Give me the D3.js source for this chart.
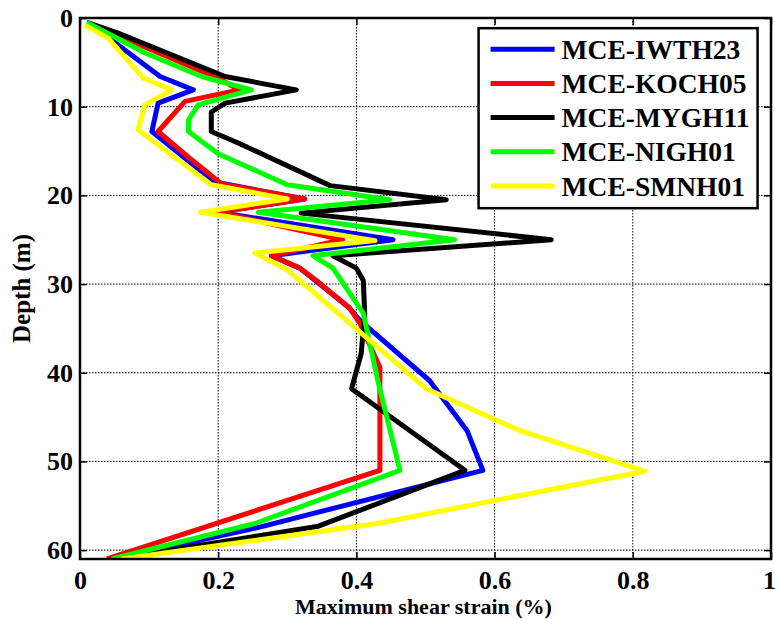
<!DOCTYPE html>
<html>
<head>
<meta charset="utf-8">
<script src="https://cdn.jsdelivr.net/npm/d3@7"></script>
<style>
  body { margin: 0; background: #fff; }
  svg text { font-family: "Liberation Serif", "Times New Roman", serif; font-weight: bold; fill: #000; }
  .grid line { stroke: #000; stroke-width: 1; stroke-dasharray: 1.5, 1.5; }
</style>
</head>
<body>
<svg id="chart"></svg>
<script>
// strain (%) vs depth (m) pairs
const iwth23 = [[0.01,0.5],[0.046,2.5],[0.116,6.6],[0.164,8.1],[0.113,9.6],[0.104,12.8],[0.195,18.5],[0.325,20.4],[0.2,21.9],[0.453,25],[0.277,26.8],[0.318,28.2],[0.39,32.7],[0.405,34.1],[0.506,40.9],[0.56,46.5],[0.583,51],[0.26,57.4],[0.05,61]];
const koch05 = [[0.01,0.5],[0.2,6.8],[0.23,8.1],[0.152,9.4],[0.113,12.8],[0.157,15.7],[0.205,18.7],[0.325,20.4],[0.2,21.9],[0.38,25],[0.277,26.8],[0.318,28.2],[0.342,29.6],[0.39,32.7],[0.405,34.4],[0.434,39.4],[0.434,51],[0.039,61]];
const mygh11 = [[0.01,0.5],[0.055,1.7],[0.21,6.6],[0.313,8.1],[0.21,9.6],[0.19,10.6],[0.19,12.8],[0.229,14.1],[0.362,18.9],[0.53,20.5],[0.32,22],[0.682,25],[0.366,26.8],[0.40,28.2],[0.41,29.6],[0.412,33.3],[0.407,37.8],[0.393,41.8],[0.557,51],[0.345,57.3],[0.05,61]];
const nigh01 = [[0.01,0.5],[0.096,4],[0.176,6.6],[0.248,8.1],[0.171,9.8],[0.157,11.5],[0.157,12.8],[0.2,15.3],[0.30,18.8],[0.369,19.6],[0.448,20.5],[0.258,21.9],[0.542,25],[0.337,26.8],[0.366,28.2],[0.41,33.3],[0.431,40.9],[0.463,51],[0.253,57],[0.046,61]];
const smnh01 = [[0.007,0.8],[0.041,2.3],[0.092,6.8],[0.133,8.1],[0.094,9.8],[0.084,12.6],[0.19,18.8],[0.30,20.4],[0.174,21.9],[0.427,25.1],[0.253,26.5],[0.30,28.4],[0.501,41.8],[0.636,46.5],[0.817,51.1],[0.43,57],[0.06,61]];

const seriesNames = ["MCE-IWTH23", "MCE-KOCH05", "MCE-MYGH11", "MCE-NIGH01", "MCE-SMNH01"];
const seriesColors = ["#0000ff", "#ff0000", "#000000", "#00ff00", "#ffff00"];
const seriesData = [iwth23, koch05, mygh11, nigh01, smnh01];

const xTicks = [0, 0.2, 0.4, 0.6, 0.8, 1];
const yTicks = [0, 10, 20, 30, 40, 50, 60];

const chartSize = {width: 775, height: 619};
const margin = {left: 80, right: 4, top: 18, bottom: 60};
const width = chartSize.width - margin.left - margin.right;
const height = chartSize.height - margin.top - margin.bottom;
const serif = '"Liberation Serif", "Times New Roman", serif';

const svg = d3.select("#chart")
  .attr("width", chartSize.width)
  .attr("height", chartSize.height);

const g = svg.append("g")
  .attr("transform", `translate(${margin.left},${margin.top})`);

const x = d3.scaleLinear().domain([0, 1]).range([0, width]);
const y = d3.scaleLinear().domain([0, 61]).range([0, height]);

// dotted grid
g.append("g").attr("class", "grid")
  .selectAll("line").data(xTicks.slice(1, -1)).join("line")
  .attr("x1", d => x(d)).attr("x2", d => x(d))
  .attr("y1", 0).attr("y2", height);
g.append("g").attr("class", "grid")
  .selectAll("line").data(yTicks.slice(1)).join("line")
  .attr("x1", 0).attr("x2", width)
  .attr("y1", d => y(d)).attr("y2", d => y(d));

// axes with inward ticks
const xAxis = g.append("g")
  .attr("transform", `translate(0,${height})`)
  .call(d3.axisBottom(x).tickValues(xTicks).tickSize(-7).tickPadding(10).tickFormat(d3.format("")));
const xAxisTop = g.append("g")
  .call(d3.axisTop(x).tickValues(xTicks).tickSize(-7).tickFormat(""));
const yAxis = g.append("g")
  .call(d3.axisLeft(y).tickValues(yTicks).tickSize(-7).tickPadding(7));
const yAxisRight = g.append("g")
  .attr("transform", `translate(${width},0)`)
  .call(d3.axisRight(y).tickValues(yTicks).tickSize(-7).tickFormat(""));

[xAxis, xAxisTop, yAxis, yAxisRight].forEach(a => {
  a.attr("font-family", null).attr("font-size", null);
  a.select(".domain").remove();
  a.selectAll(".tick line").attr("stroke", "#000").attr("stroke-width", 1.5);
});
xAxis.selectAll("text")
  .style("font-family", serif).style("font-size", "26px").style("font-weight", "bold")
  .attr("dy", "0.75em")
  .attr("dx", d => d === 1 ? -2 : 0);
yAxis.selectAll("text")
  .style("font-family", serif).style("font-size", "26px").style("font-weight", "bold")
  .attr("x", -7);

// lines
g.append("clipPath").attr("id", "plot-clip")
  .append("rect").attr("width", width).attr("height", height);

const line = d3.line().x(d => x(d[0])).y(d => y(d[1]));

g.append("g").attr("clip-path", "url(#plot-clip)")
  .selectAll("path").data(seriesData).join("path")
  .attr("d", line)
  .attr("fill", "none")
  .attr("stroke", (d, i) => seriesColors[i])
  .attr("stroke-width", 5)
  .attr("stroke-linejoin", "round");

// frame
g.append("rect")
  .attr("width", width).attr("height", height)
  .attr("fill", "none").attr("stroke", "#000").attr("stroke-width", 2.5);

// axis labels
g.append("text")
  .attr("x", width / 2 - 2).attr("y", height + 55)
  .attr("text-anchor", "middle")
  .style("font-size", "22px")
  .text("Maximum shear strain (%)");

g.append("text")
  .attr("transform", `translate(${-50},${height / 2}) rotate(-90)`)
  .attr("text-anchor", "middle")
  .style("font-size", "25px")
  .text("Depth (m)");

// legend
const legend = g.append("g").attr("transform", `translate(${x(0.5768)},${y(1.15)})`);
legend.append("rect")
  .attr("width", 279).attr("height", 180)
  .attr("fill", "#fff").attr("stroke", "#000").attr("stroke-width", 2.5);
const item = legend.selectAll("g.item").data(seriesNames).join("g")
  .attr("class", "item")
  .attr("transform", (d, i) => `translate(0,${21 + i * 34.2})`);
item.append("line")
  .attr("x1", 12).attr("x2", 76)
  .attr("stroke", (d, i) => seriesColors[i]).attr("stroke-width", 5);
item.append("text")
  .attr("x", 83).attr("dy", "0.35em")
  .style("font-size", "27.5px")
  .text(d => d);
</script>
</body>
</html>
